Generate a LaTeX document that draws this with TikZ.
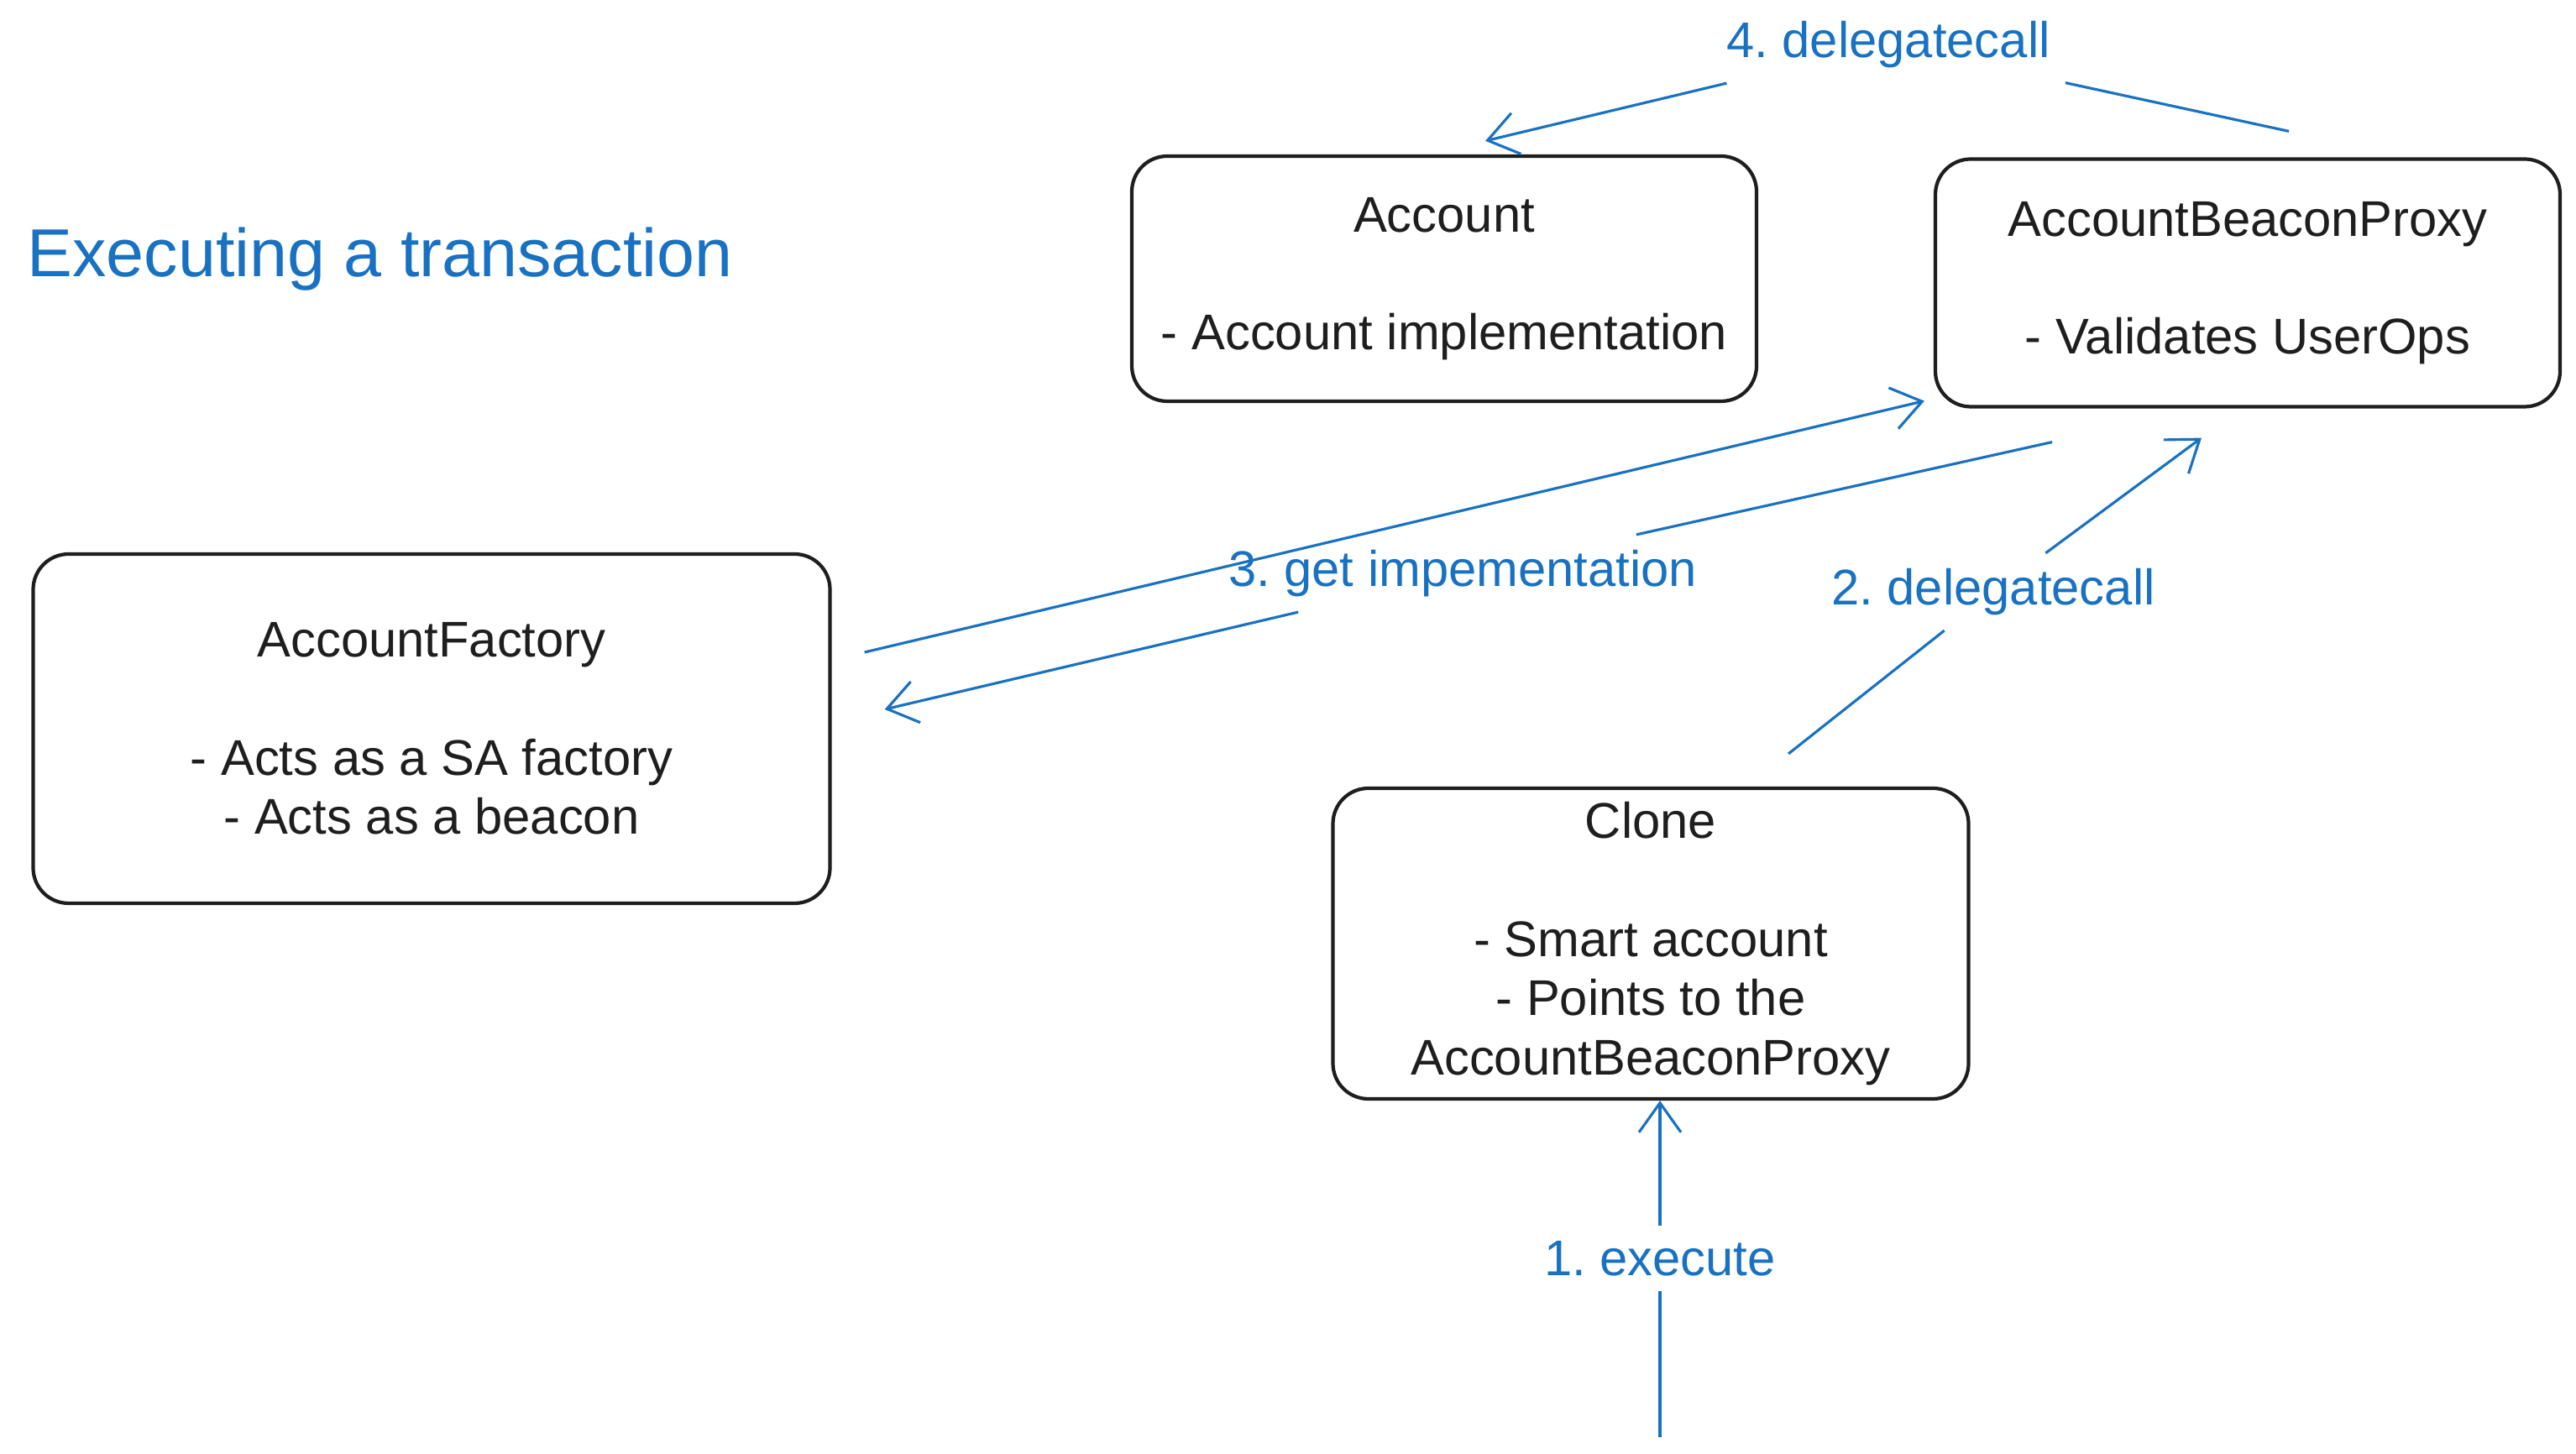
\documentclass[tikz,border=0pt]{standalone}
\usepackage{fontspec}
\setmainfont{Liberation Sans}
\usepackage{tikz}
\usetikzlibrary{arrows.meta,positioning,calc}
\usepackage{xcolor}
\definecolor{sketchink}{HTML}{1E1E1E}
\definecolor{sketchblue}{HTML}{1971C2}
\frenchspacing
\tikzset{
  contractbox/.style={
    rounded corners=12pt,
    draw=sketchink,
    line width=1.2pt,
    align=center,
    text=sketchink,
    font=\fontsize{17}{20}\selectfont
  },
  flow/.style={
    -{Straight Barb[length=3.5mm,width=5mm]},
    line width=0.9pt,
    draw=sketchblue
  },
  steplabel/.style={
    text=sketchblue,
    inner sep=5pt,
    font=\fontsize{17}{20}\selectfont
  }
}

\begin{document}
\begin{tikzpicture}
\useasboundingbox (0,0) rectangle (30.68,17.32);
\node[anchor=west, text=sketchblue, font=\fontsize{23}{27}\selectfont] (title) at (0.2,14.23) {Executing a transaction};
% contracts
\node[contractbox, minimum width=7.44cm, minimum height=2.92cm] (account) at (17.20,14.00) {Account\\[20pt]- Account implementation};
\node[contractbox, minimum width=7.44cm, minimum height=2.95cm] (proxy) at (26.77,13.95) {AccountBeaconProxy\\[20pt]- Validates UserOps};
\node[contractbox, minimum width=9.49cm, minimum height=4.16cm] (factory) at (5.14,8.64) {AccountFactory\\[20pt]- Acts as a SA factory\\- Acts as a beacon};
\node[contractbox, minimum width=7.57cm, minimum height=3.70cm] (clone) at (19.66,6.08) {Clone\\[20pt]- Smart account\\- Points to the\\AccountBeaconProxy};
% step labels
\node[steplabel] (execute) at (19.77,2.33) {1. execute};
\node[steplabel] (delegate) at (23.74,10.27) {2. delegatecall};
\node[steplabel] (getimpl) at (17.42,10.49) {3. get impementation};
\node[steplabel] (delegatetwo) at (22.49,16.79) {4. delegatecall};
\coordinate (caller) at (19.77,0.20);
% calls
\draw[flow] (caller) -- (execute) -- (execute |- clone.south);
\draw[flow] ($(clone.north)+(1.64,0.39)$) -- (delegate) -- ($(proxy.south)+(-0.55,-0.35)$);
\draw[flow] ($(factory.east)+(0.39,0.91)$) -- ($(proxy.south west)+(-0.11,0.09)$);
\draw[flow] ($(proxy.south)+(-2.33,-0.40)$) -- (getimpl) -- ($(factory.east)+(0.63,0.23)$);
\draw[flow] ($(proxy.north)+(0.49,0.31)$) -- (delegatetwo) -- ($(account.north)+(0.49,0.16)$);
\end{tikzpicture}
\end{document}
